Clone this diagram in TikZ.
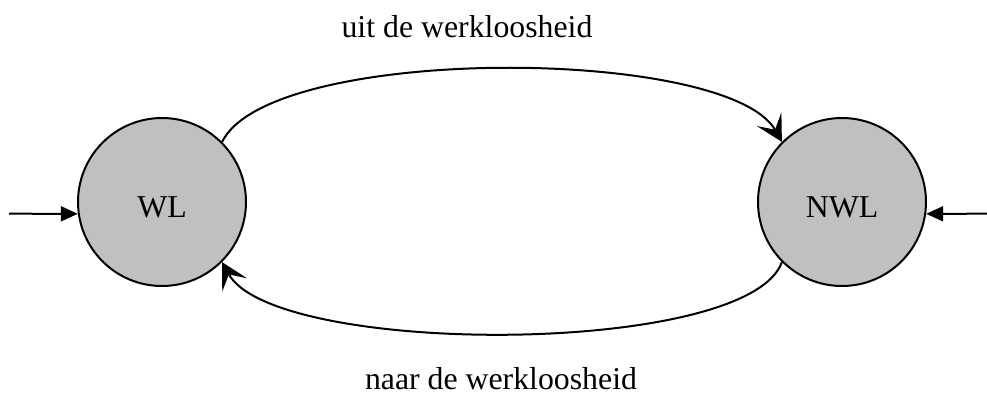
\documentclass[tikz,border=0pt]{standalone}
\usepackage{fontspec}
\setmainfont{Liberation Serif}
\usetikzlibrary{arrows.meta}
\definecolor{stategray}{RGB}{192,192,192}
\begin{document}
\begin{tikzpicture}[x=0.5pt,y=-0.5pt,
  state/.style={circle,draw,line width=1pt,fill=stategray,minimum size=84pt,inner sep=0pt},
  lbl/.style={anchor=base,font=\fontsize{15.9pt}{19pt}\selectfont,inner sep=0pt},
  conn/.style={line width=1pt},
  inarrow/.style={conn,-{Triangle[length=8.5pt,width=7.5pt]}},
  curvarrow/.style={conn,-{Stealth[length=13pt,width=14pt,inset=6pt]}}]
\useasboundingbox (0,0) rectangle (987,398);
% states
\node[state] (WL) at (162,202) {};
\node[state] (NWL) at (842,202) {};
\node[lbl] (WLtext) at (162,217) {WL};
\node[lbl] (NWLtext) at (842,217) {NWL};
% initial arrows
\coordinate (inL) at (9,213.7);
\coordinate (inR) at (987,213.7);
\draw[inarrow] (inL) -- (WL.188);
\draw[inarrow] (inR) -- (NWL.-8);
% transitions
\draw[curvarrow] (WL.45) .. controls (270,44) and (728,46) .. (NWL.135);
\draw[curvarrow] (NWL.225) .. controls (748,357) and (274,357) .. (WL.315);
% labels
\node[lbl] (uit) at (467,37) {uit de werkloosheid};
\node[lbl] (naar) at (501,389) {naar de werkloosheid};
\end{tikzpicture}
\end{document}
